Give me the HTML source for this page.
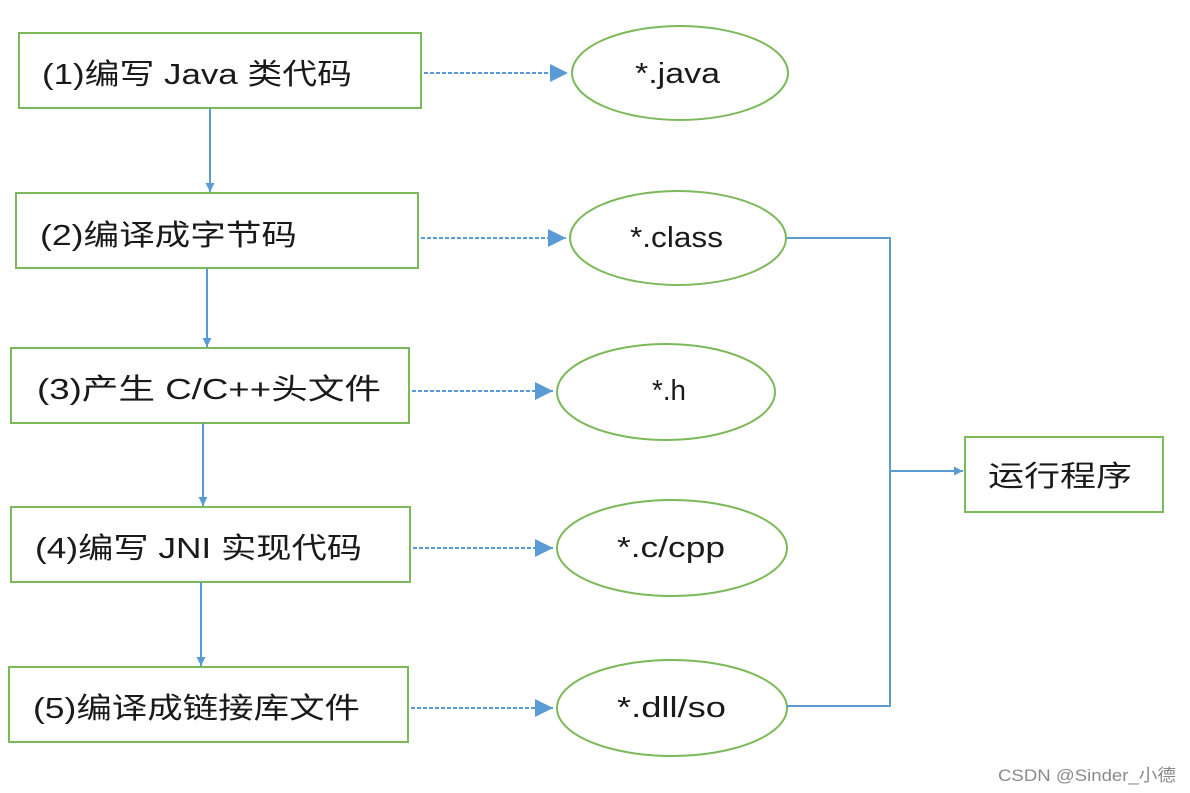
<!DOCTYPE html>
<html><head><meta charset="utf-8"><style>
html,body{margin:0;padding:0;background:#fff;}
svg{display:block;}
text{font-family:"Liberation Sans","Noto Sans CJK SC",sans-serif;fill:#1a1a1a;}
</style></head><body>
<svg width="1190" height="793" viewBox="0 0 1190 793" xmlns="http://www.w3.org/2000/svg">
<defs>
<marker id="a" viewBox="0 0 10 10" refX="10" refY="5" markerWidth="4.5" markerHeight="4.5" orient="auto" markerUnits="strokeWidth"><path d="M0,0L10,5L0,10z" fill="#5b9bd5"/></marker>
<marker id="b" viewBox="0 0 10 10" refX="10" refY="5" markerWidth="9" markerHeight="9" orient="auto" markerUnits="strokeWidth"><path d="M0,0L10,5L0,10z" fill="#5b9bd5"/></marker>
</defs>
<g fill="none" stroke="#7cb95a" stroke-width="2">
<rect x="19" y="33" width="402" height="75"/>
<rect x="16" y="193" width="402" height="75"/>
<rect x="11" y="348" width="398" height="75"/>
<rect x="11" y="507" width="399" height="75"/>
<rect x="9" y="667" width="399" height="75"/>
<rect x="965" y="437" width="198" height="75"/>
<ellipse cx="680" cy="73" rx="108" ry="47"/>
<ellipse cx="678" cy="238" rx="108" ry="47"/>
<ellipse cx="666" cy="392" rx="109" ry="48"/>
<ellipse cx="672" cy="548" rx="115" ry="48"/>
<ellipse cx="672" cy="708" rx="115" ry="48"/>
</g>
<g stroke="#5b9bd5" stroke-width="2" fill="none">
<line x1="210" y1="108" x2="210" y2="192" marker-end="url(#a)"/>
<line x1="207" y1="268" x2="207" y2="347" marker-end="url(#a)"/>
<line x1="203" y1="423" x2="203" y2="506" marker-end="url(#a)"/>
<line x1="201" y1="582" x2="201" y2="666" marker-end="url(#a)"/>
<polyline points="787,238 890,238 890,706 787,706"/>
<line x1="890" y1="471" x2="963" y2="471" marker-end="url(#a)"/>
</g>
<g stroke="#5b9bd5" stroke-width="2" stroke-dasharray="4,2" fill="none">
<line x1="424" y1="73" x2="568" y2="73" marker-end="url(#b)"/>
<line x1="421" y1="238" x2="566" y2="238" marker-end="url(#b)"/>
<line x1="412" y1="391" x2="553" y2="391" marker-end="url(#b)"/>
<line x1="413" y1="548" x2="553" y2="548" marker-end="url(#b)"/>
<line x1="411" y1="708" x2="553" y2="708" marker-end="url(#b)"/>
</g>
<g font-size="29">
<text x="42" y="84" textLength="310" lengthAdjust="spacingAndGlyphs">(1)编写 Java 类代码</text>
<text x="40" y="245" textLength="257" lengthAdjust="spacingAndGlyphs">(2)编译成字节码</text>
<text x="37" y="399" textLength="344" lengthAdjust="spacingAndGlyphs">(3)产生 C/C++头文件</text>
<text x="35" y="558" textLength="327" lengthAdjust="spacingAndGlyphs">(4)编写 JNI 实现代码</text>
<text x="33" y="718" textLength="327" lengthAdjust="spacingAndGlyphs">(5)编译成链接库文件</text>
<text x="635" y="83" textLength="85" lengthAdjust="spacingAndGlyphs">*.java</text>
<text x="630" y="247" textLength="93" lengthAdjust="spacingAndGlyphs">*.class</text>
<text x="652" y="400" textLength="34" lengthAdjust="spacingAndGlyphs">*.h</text>
<text x="617" y="557" textLength="108" lengthAdjust="spacingAndGlyphs">*.c/cpp</text>
<text x="617" y="717" textLength="109" lengthAdjust="spacingAndGlyphs">*.dll/so</text>
<text x="988" y="486" textLength="144" lengthAdjust="spacingAndGlyphs">运行程序</text>
</g>
<text x="998" y="781" font-size="17" style="fill:#8a8a8a" textLength="178" lengthAdjust="spacingAndGlyphs">CSDN @Sinder_小德</text>
</svg>
</body></html>
